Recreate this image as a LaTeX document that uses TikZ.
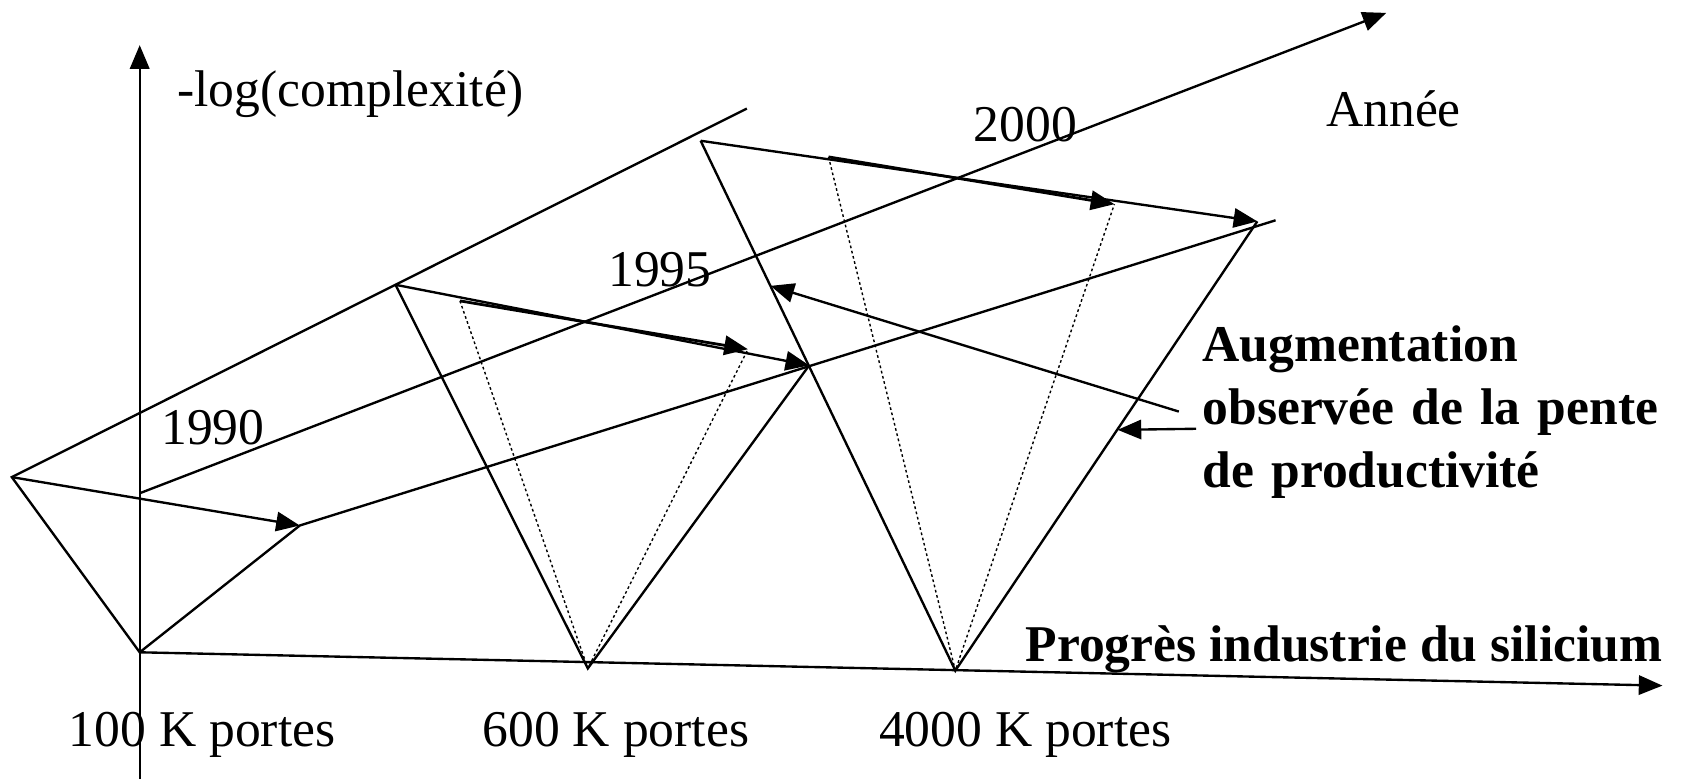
\documentclass[tikz,border=0pt]{standalone}
\usepackage{fontspec}
\setmainfont{Liberation Serif}
\usetikzlibrary{arrows.meta}

\begin{document}
\begin{tikzpicture}[x=1pt, y=-1pt, line width=2.2pt,
    fleche/.style={-{Triangle[length=22pt,width=18pt]}},
    pointille/.style={line width=1.3pt, dash pattern=on 2.5pt off 2.5pt},
    texte/.style={inner sep=0pt, anchor=base west, font=\fontsize{48}{59}\selectfont},
    gras/.style={texte, font=\fontsize{48}{59}\selectfont\bfseries}]
    \useasboundingbox (0,0) rectangle (1568,725);

    % axes
    \coordinate (O) at (130,607);
    \coordinate (y-bas) at (130,725);
    \coordinate (y-haut) at (130,42);
    \coordinate (x-fin) at (1547,638);
    \coordinate (annee-debut) at (130,459);
    \coordinate (annee-fin) at (1290,12);

    % 100 K portes
    \coordinate (g) at (11,444);
    \coordinate (g-haut) at (695,101);
    \coordinate (p90) at (279,489);
    \coordinate (p-fin) at (1187,205);

    % 600 K portes
    \coordinate (h600) at (368,265);
    \coordinate (b600) at (547,622);
    \coordinate (r600) at (753,340);
    \coordinate (d600) at (428,280);
    \coordinate (e600) at (696,325);

    % 4000 K portes
    \coordinate (h4000) at (652,131);
    \coordinate (b4000) at (889,624);
    \coordinate (r4000) at (1170,206);
    \coordinate (d4000) at (771,146);
    \coordinate (e4000) at (1037,190);

    % pointeurs de l'annotation
    \coordinate (pente-debut) at (1097,383);
    \coordinate (pente-fin) at (717,266);
    \coordinate (court-debut) at (1113,399);
    \coordinate (court-fin) at (1040,400);

    \draw[fleche] (y-bas) -- (y-haut);
    \draw[fleche] (O) -- (x-fin);
    \draw[fleche] (annee-debut) -- (annee-fin);

    \draw (g-haut) -- (g) -- (O) -- (p90) -- (p-fin);
    \draw[fleche] (g) -- (p90);

    \draw (h600) -- (b600) -- (r600);
    \draw[fleche] (h600) -- (r600);
    \draw[pointille] (d600) -- (b600) -- (e600);
    \draw[fleche, line width=2.6pt] (d600) -- (e600);

    \draw (h4000) -- (b4000) -- (r4000);
    \draw[fleche] (h4000) -- (r4000);
    \draw[pointille] (d4000) -- (b4000) -- (e4000);
    \draw[fleche, line width=2.6pt] (d4000) -- (e4000);

    \draw[fleche] (pente-debut) -- (pente-fin);
    \draw[fleche] (court-debut) -- (court-fin);

    % textes
    \node[texte] (complexite) at (164,99) {-log(complexité)};
    \node[texte] (annee) at (1233,118) {Année};
    \node[texte] (an2000) at (905,132) {2000};
    \node[texte] (an1995) at (565,267) {1995};
    \node[texte] (an1990) at (149,414) {1990};
    \node[texte] (k100) at (63,695) {100 K portes};
    \node[texte] (k600) at (448,695) {600 K portes};
    \node[texte] (k4000) at (817,695) {4000 K portes};
    \node[gras, anchor=base east] (silicium) at (1548,616) {Progrès industrie du silicium};
    \node[gras, text width=460pt, align=left] (augmentation) at (1118,336)
        {Augmentation\\observée de la pente\\de productivité};
\end{tikzpicture}
\end{document}
